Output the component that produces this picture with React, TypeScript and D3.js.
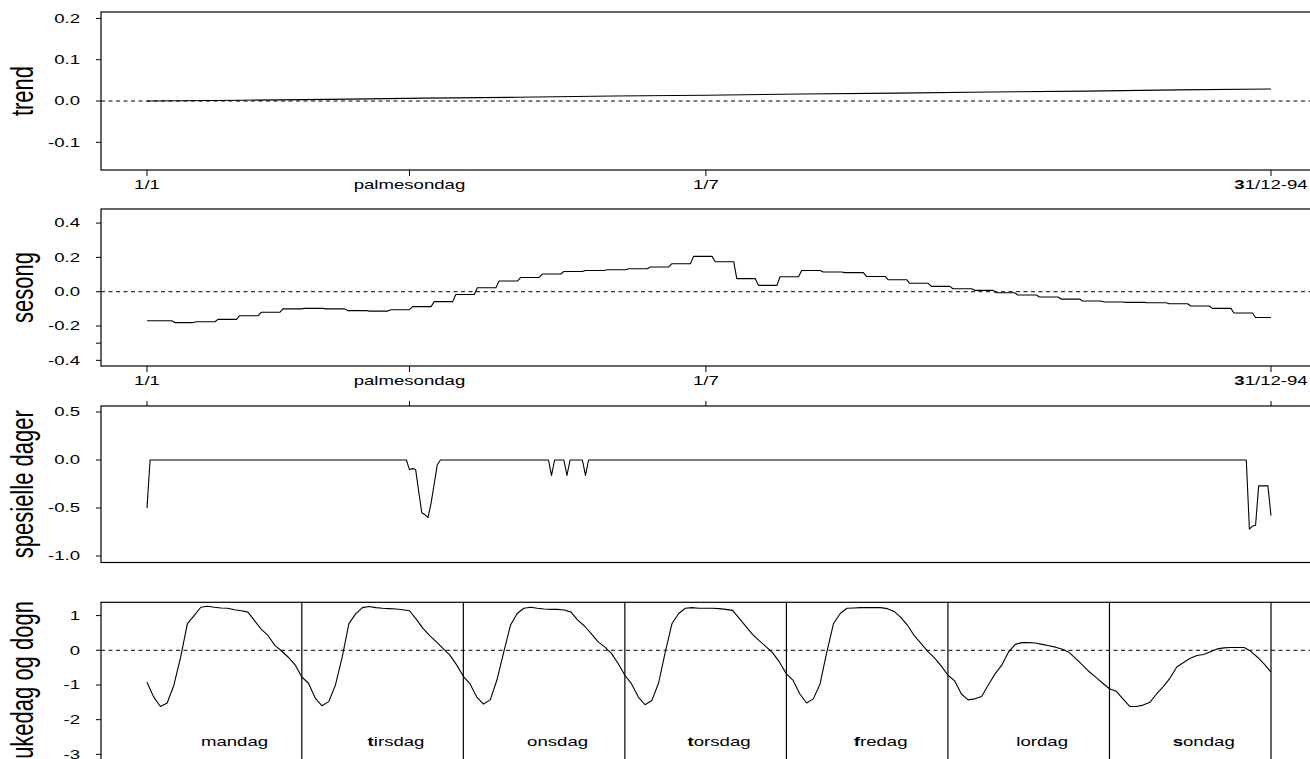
import * as d3 from 'd3';

// ── Date axis (1994, day of year) ──
const dateTickDays = [1, 86, 182, 365];
const dateTickLabels = ['1/1', 'palmesondag', '1/7', '31/12-94'];

// ── trend ──
const trendDays = [1, 32, 60, 91, 121, 152, 182, 213, 244, 274, 305, 335, 365];
const trendValues = [0.0, 0.002, 0.004, 0.007, 0.009, 0.012, 0.014, 0.017, 0.019, 0.022, 0.024, 0.027, 0.029];

// ── sesong: weekly levels, each starting on the given day ──
const seasonStartDays = [
  1, 10, 17, 24, 31, 38, 45, 52, 59, 66, 73, 80, 87, 94, 101, 108, 115, 122, 129, 136, 143, 150, 157,
  164, 171, 178, 185, 192, 199, 206, 213, 220, 227, 234, 241, 248, 255, 262, 269, 276, 283, 290, 297,
  304, 311, 318, 325, 332, 339, 346, 353, 360,
];
const seasonValues = [
  -0.169, -0.18, -0.175, -0.161, -0.14, -0.12, -0.1, -0.097, -0.1, -0.11, -0.113, -0.105, -0.087, -0.058,
  -0.016, 0.023, 0.062, 0.083, 0.103, 0.118, 0.124, 0.128, 0.134, 0.144, 0.163, 0.206, 0.175, 0.076,
  0.037, 0.087, 0.124, 0.115, 0.111, 0.089, 0.07, 0.049, 0.031, 0.017, 0.008, -0.006, -0.019, -0.031,
  -0.043, -0.054, -0.06, -0.062, -0.064, -0.07, -0.083, -0.097, -0.124, -0.15,
];
const seasonLastDay = 365;

// ── spesielle dager ──
const specialDays = [
  1, 2, 85, 86, 87, 88, 89, 90, 91, 92, 93, 94, 95, 96, 131, 132, 133, 136, 137, 138, 142, 143, 144,
  357, 358, 359, 360, 361, 362, 363, 364, 365,
];
const specialValues = [
  -0.5, 0, 0, -0.1, -0.09, -0.1, -0.33, -0.55, -0.57, -0.6, -0.45, -0.25, -0.05, 0, 0, -0.16, 0, 0,
  -0.16, 0, 0, -0.16, 0, 0, -0.72, -0.69, -0.68, -0.27, -0.27, -0.27, -0.27, -0.58,
];

// ── ukedag og dogn: hourly effect per weekday ──
const dayLabels = ['mandag', 'tirsdag', 'onsdag', 'torsdag', 'fredag', 'lordag', 'sondag'];
const boldFirst = ['tirsdag', 'torsdag', 'fredag', 'sondag', '31/12-94'];
const monHours = [-0.92, -1.35, -1.62, -1.52, -1.0, -0.2, 0.77, 1.0, 1.24, 1.27, 1.24, 1.22, 1.21, 1.17, 1.14, 1.1, 0.85, 0.6, 0.42, 0.14, -0.02, -0.2, -0.42, -0.77];
const tueHours = [-0.95, -1.38, -1.6, -1.48, -1.0, -0.2, 0.77, 1.05, 1.23, 1.26, 1.23, 1.21, 1.2, 1.19, 1.17, 1.14, 0.9, 0.63, 0.42, 0.24, 0.05, -0.14, -0.42, -0.75];
const wedHours = [-0.97, -1.35, -1.55, -1.43, -0.85, -0.05, 0.72, 1.06, 1.21, 1.24, 1.21, 1.19, 1.18, 1.18, 1.16, 1.1, 0.87, 0.7, 0.48, 0.25, 0.1, -0.09, -0.38, -0.72];
const thuHours = [-0.97, -1.35, -1.57, -1.45, -0.95, -0.05, 0.77, 1.06, 1.21, 1.23, 1.21, 1.21, 1.21, 1.2, 1.18, 1.15, 0.92, 0.68, 0.45, 0.27, 0.1, -0.08, -0.35, -0.68];
const friHours = [-0.87, -1.26, -1.52, -1.4, -0.97, -0.05, 0.77, 1.06, 1.21, 1.22, 1.23, 1.23, 1.23, 1.23, 1.2, 1.12, 0.95, 0.72, 0.42, 0.2, -0.03, -0.22, -0.45, -0.72];
const satHours = [-0.88, -1.26, -1.43, -1.4, -1.33, -1.0, -0.68, -0.43, -0.05, 0.17, 0.22, 0.22, 0.21, 0.17, 0.13, 0.09, 0.03, -0.06, -0.24, -0.43, -0.62, -0.78, -0.95, -1.11];
const sunHours = [-1.18, -1.4, -1.62, -1.62, -1.58, -1.5, -1.26, -1.05, -0.8, -0.48, -0.35, -0.23, -0.15, -0.12, -0.04, 0.04, 0.07, 0.08, 0.08, 0.08, -0.03, -0.2, -0.4, -0.63];

const W = 1310;
const H = 759;
const LEFT = 101;
const RIGHT = 1335;
const FONT = 'Liberation Sans, Arial, Helvetica, sans-serif';
const SX = 1.55;

const panels = [
  { title: 'trend', top: 12, bottom: 170, domain: [-0.167, 0.2155], ticks: [0.2, 0.1, 0, -0.1], labels: ['0.2', '0.1', '0.0', '-0.1'], zero: true },
  { title: 'sesong', top: 209, bottom: 366, domain: [-0.433, 0.482], ticks: [0.4, 0.2, 0, -0.2, -0.3, -0.4], labels: ['0.4', '0.2', '0.0', '-0.2', '', '-0.4'], zero: true },
  { title: 'spesielle dager', top: 406, bottom: 562.5, domain: [-1.068, 0.5625], ticks: [0.5, 0, -0.5, -1], labels: ['0.5', '0.0', '-0.5', '-1.0'], zero: false },
  { title: 'ukedag og dogn', top: 602.3, bottom: 762, domain: [-3.22, 1.383], ticks: [1, 0, -1, -2, -3], labels: ['1', '0', '-1', '-2', '-3'], zero: true },
];

function SText({ x, y, anchor = 'middle', size = 12, label }: { x: number; y: number; anchor?: string; size?: number; label: string }) {
  const bold = boldFirst.includes(label);
  return (
    <text transform={`translate(${x},${y}) scale(${SX},1)`} textAnchor={anchor} fontSize={size} fontFamily={FONT} fill="#000">
      {bold ? (
        <>
          <tspan fontWeight="bold">{label[0]}</tspan>
          {label.slice(1)}
        </>
      ) : (
        label
      )}
    </text>
  );
}

export default function App() {
  const dayX = d3.scaleLinear().domain([1, 365]).range([147, 1271]);
  const hourX = d3.scaleLinear().domain([1, 168]).range([147, 1271]);
  const ys = panels.map((p) => d3.scaleLinear().domain(p.domain).range([p.bottom, p.top]));

  // trend line
  const trendLine = d3
    .line<number>()
    .x((_, i) => dayX(trendDays[i]))
    .y((d) => ys[0](d))(trendValues);

  // season steps: level held over each week, one-day slope between weeks
  const seasonPts: [number, number][] = [];
  seasonValues.forEach((v, i) => {
    const start = seasonStartDays[i];
    const end = i < seasonValues.length - 1 ? seasonStartDays[i + 1] - 1 : seasonLastDay;
    seasonPts.push([start, v], [end, v]);
  });
  const seasonLine = d3
    .line<[number, number]>()
    .x((d) => dayX(d[0]))
    .y((d) => ys[1](d[1]))(seasonPts);

  const specialLine = d3
    .line<number>()
    .x((_, i) => dayX(specialDays[i]))
    .y((d) => ys[2](d))(specialValues);

  const weekValues = [monHours, tueHours, wedHours, thuHours, friHours, satHours, sunHours].flat();
  const weekLine = d3
    .line<number>()
    .x((_, i) => hourX(i + 1))
    .y((d) => ys[3](d))(weekValues);

  const dataPaths = [trendLine, seasonLine, specialLine, weekLine];

  return (
    <svg width={W} height={H} style={{ position: 'fixed', left: 0, top: 0, background: '#fff' }}>
      <rect x={0} y={0} width={W} height={H} fill="#fff" />
      {panels.map((p, pi) => {
        const y = ys[pi];
        const mid = (p.top + Math.min(p.bottom, H + 40)) / 2;
        return (
          <g key={p.title}>
            {/* box */}
            <rect x={LEFT} y={p.top} width={RIGHT - LEFT} height={p.bottom - p.top} fill="none" stroke="#000" strokeWidth={1.2} />
            {/* zero reference */}
            {p.zero && <line x1={LEFT} x2={RIGHT} y1={y(0)} y2={y(0)} stroke="#000" strokeWidth={1} strokeDasharray="4,3.5" />}
            {/* y ticks */}
            {p.ticks.map((t, ti) => (
              <g key={ti}>
                <line x1={LEFT - 5} x2={LEFT} y1={y(t)} y2={y(t)} stroke="#000" strokeWidth={1} />
                {p.labels[ti] && <SText x={80} y={y(t) + 4.3} anchor="end" label={p.labels[ti]} />}
              </g>
            ))}
            {/* y title */}
            <text
              transform={`translate(33,${pi === 3 ? 680 : mid}) scale(1.4,1) rotate(-90)`}
              textAnchor="middle"
              fontSize={22}
              fontFamily={FONT}
              fill="#000"
            >
              {p.title}
            </text>
            <path d={dataPaths[pi] ?? ''} fill="none" stroke="#000" strokeWidth={1.1} strokeLinejoin="round" />
          </g>
        );
      })}

      {/* date axes under trend and sesong */}
      {[0, 1].map((pi) => (
        <g key={pi}>
          {dateTickDays.map((d, i) => (
            <g key={d}>
              <line x1={dayX(d)} x2={dayX(d)} y1={panels[pi].bottom} y2={panels[pi].bottom + 6} stroke="#000" strokeWidth={1} />
              <SText x={dayX(d)} y={panels[pi].bottom + 18.5} label={dateTickLabels[i]} />
            </g>
          ))}
        </g>
      ))}
      {/* ticks on top of spesielle dager */}
      {dateTickDays.map((d) => (
        <line key={d} x1={dayX(d)} x2={dayX(d)} y1={panels[2].top} y2={panels[2].top - 5} stroke="#000" strokeWidth={1} />
      ))}

      {/* weekday separators and labels */}
      {dayLabels.map((lab, i) => (
        <g key={lab}>
          <line x1={hourX(24 * (i + 1))} x2={hourX(24 * (i + 1))} y1={panels[3].top} y2={panels[3].bottom} stroke="#000" strokeWidth={1.2} />
          <SText x={hourX(24 * i + 14)} y={746} label={lab} />
        </g>
      ))}
    </svg>
  );
}
